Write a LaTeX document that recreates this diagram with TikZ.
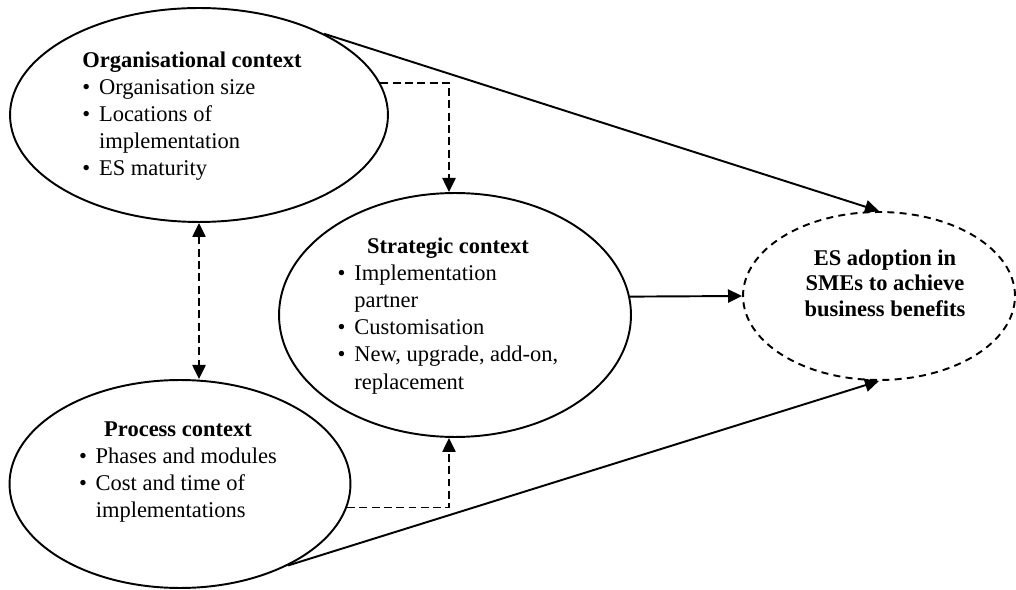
\documentclass[tikz,border=0pt]{standalone}
\usepackage{fontspec}
\setmainfont{Liberation Serif}
\usetikzlibrary{shapes.geometric, arrows.meta}
\tikzset{
	>={Triangle[length=8pt, width=7.5pt]},
	ctx/.style={draw, ellipse, line width=1.1pt, inner sep=0pt},
	txt/.style={font=\fontsize{12.8}{15.4}\selectfont, inner sep=0pt},
	link/.style={->, line width=1.1pt},
	dlink/.style={->, line width=1.1pt, dash pattern=on 4.5pt off 2.5pt}}

\begin{document}
\begin{tikzpicture}[x=0.02cm, y=-0.02cm]
		\useasboundingbox (0,0) rectangle (1016,590);
		
		% the four contexts
		\node[ctx, minimum width=7.56cm, minimum height=4.28cm] (org) at (199,115) {};
		\node[ctx, minimum width=7.04cm, minimum height=4.88cm] (strat) at (455,315) {};
		\node[ctx, minimum width=6.82cm, minimum height=4.16cm] (proc) at (180,484) {};
		\node[ctx, dash pattern=on 4pt off 3pt, minimum width=5.44cm, minimum height=3.36cm] (goal) at (879,296) {};
		
		\node[txt] (orgtxt) at (192,116) {\begin{tabular}{@{}l@{\hspace{5pt}}l@{}}
			\multicolumn{2}{@{}c@{}}{\textbf{Organisational context}}\\
			\textbullet & Organisation size\\
			\textbullet & Locations of\\
			& implementation\\
			\textbullet & ES maturity
		\end{tabular}};
		\node[txt] (strattxt) at (448,316) {\begin{tabular}{@{}l@{\hspace{5pt}}l@{}}
			\multicolumn{2}{@{}c@{}}{\textbf{Strategic context}}\\
			\textbullet & Implementation\\
			& partner\\
			\textbullet & Customisation\\
			\textbullet & New, upgrade, add-on,\\
			& replacement
		\end{tabular}};
		\node[txt] (proctxt) at (178,472) {\begin{tabular}{@{}l@{\hspace{5pt}}l@{}}
			\multicolumn{2}{@{}c@{}}{\textbf{Process context}}\\
			\textbullet & Phases and modules\\
			\textbullet & Cost and time of\\
			& implementations
		\end{tabular}};
		\node[txt, align=center, font=\fontsize{12.8}{14.5}\selectfont\bfseries] (goaltxt) at (885,283)
			{ES adoption in\\SMEs to achieve\\business benefits};
		
		\draw[link] (org.33) -- (goal.north);
		\draw[link] (proc.-37) -- (goal.south);
		\draw[link] (strat.6) -- (goal.west);
		\draw[dlink] (org.10) -| ([xshift=-0.12cm]strat.north);
		\draw[dlink] (proc.-8) -| ([xshift=-0.12cm]strat.south);
		\draw[dlink, <->] (org.south) -- (org.south |- proc.north);
		
	\end{tikzpicture}
\end{document}
